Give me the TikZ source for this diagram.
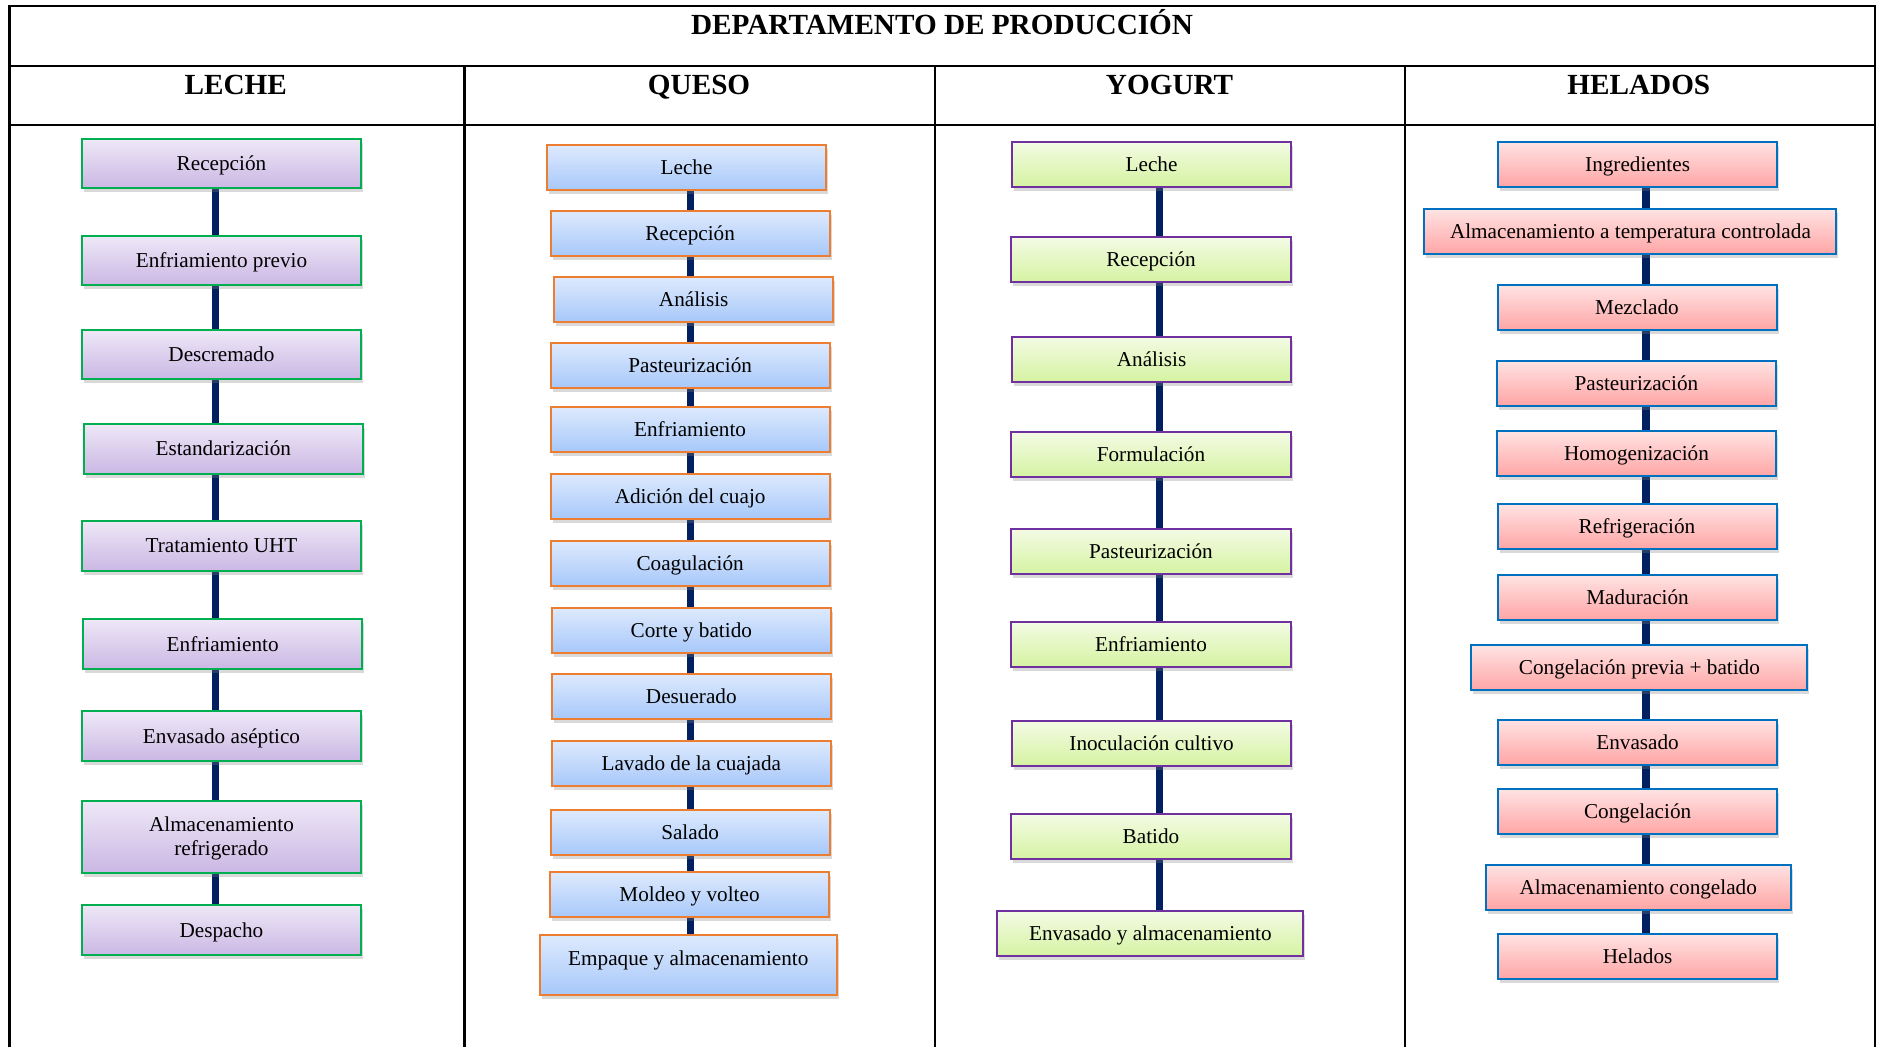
\documentclass[tikz,border=0pt]{standalone}
\usepackage{fontspec}
\setmainfont{Liberation Serif}
\usetikzlibrary{shadows,backgrounds}

% Couleurs des colonnes
\definecolor{vertbord}{HTML}{00B050}
\definecolor{lavhaut}{HTML}{EEE8F7}
\definecolor{lavbas}{HTML}{CBB7E4}
\definecolor{orangebord}{HTML}{ED7D31}
\definecolor{bleuhaut}{HTML}{DEEAFD}
\definecolor{bleubas}{HTML}{A7C8FA}
\definecolor{violetbord}{HTML}{7030A0}
\definecolor{verthaut}{HTML}{F3FBE4}
\definecolor{vertbas}{HTML}{D5F3A2}
\definecolor{bleubord}{HTML}{0070C0}
\definecolor{rosehaut}{HTML}{FFE3E3}
\definecolor{rosebas}{HTML}{FFA5A5}
\definecolor{marine}{HTML}{002060}

\begin{document}
\begin{tikzpicture}[
    x=0.5985pt, y=-0.5985pt,
    % Réglages communs des étapes
    etape/.style={draw, line width=1pt, minimum width=139.5pt, minimum height=22.5pt,
        inner sep=2pt, text height=9pt, text depth=2pt,
        font=\fontsize{10.6}{12}\selectfont,
        drop shadow={opacity=0.3, shadow xshift=1pt, shadow yshift=-2pt}},
    lait/.style={etape, draw=vertbord, top color=lavhaut, bottom color=lavbas, minimum height=24.8pt},
    fromage/.style={etape, draw=orangebord, top color=bleuhaut, bottom color=bleubas},
    yaourt/.style={etape, draw=violetbord, top color=verthaut, bottom color=vertbas},
    glace/.style={etape, draw=bleubord, top color=rosehaut, bottom color=rosebas},
    lien/.style={draw=marine, line width=3.6pt}, % trait entre deux étapes
    titre/.style={font=\fontsize{14.6}{17}\selectfont\bfseries, anchor=base},
    grille/.style={line width=1.1pt}
]
\useasboundingbox (0,0) rectangle (1568,875);
% Tableau
\draw[grille] (8,875) -- (8,5) -- (1566,5) -- (1566,875);
\draw[grille] (8,55) -- (1566,55);
\draw[grille] (8,104.5) -- (1566,104.5);
\draw[grille] (388,55) -- (388,875);
\draw[grille] (781,55) -- (781,875);
\draw[grille] (1173.5,55) -- (1173.5,875);
% En-têtes
\node[titre] (dep) at (787,28.5) {DEPARTAMENTO DE PRODUCCIÓN};
\node[titre] (tleche) at (197,79) {LECHE};
\node[titre] (tqueso) at (584,79) {QUESO};
\node[titre] (tyogurt) at (977,79) {YOGURT};
\node[titre] (thelados) at (1369,79) {HELADOS};
% Axes des traits
\coordinate (axel) at (180,0);
\coordinate (axeq) at (577,0);
\coordinate (axey) at (968.5,0);
\coordinate (axeh) at (1375,0);
% Leche
\node[lait] (l1) at (185,136.5) {Recepción};
\node[lait] (l2) at (185,217.5) {Enfriamiento previo};
\node[lait] (l3) at (185,296) {Descremado};
\node[lait] (l4) at (186.5,375) {Estandarización};
\node[lait] (l5) at (185,456) {Tratamiento UHT};
\node[lait] (l6) at (186,538) {Enfriamiento};
\node[lait] (l7) at (185,615) {Envasado aséptico};
\node[lait, minimum height=35.9pt] (l8) at (185,699)
    {\begin{tabular}{@{}c@{}}Almacenamiento\\refrigerado\end{tabular}};
\node[lait] (l9) at (185,777) {Despacho};
% Queso
\node[fromage] (q1) at (573.5,140) {Leche};
\node[fromage] (q2) at (576.5,195) {Recepción};
\node[fromage] (q3) at (579.5,250) {Análisis};
\node[fromage] (q4) at (576.5,305) {Pasteurización};
\node[fromage] (q5) at (576.5,358.5) {Enfriamiento};
\node[fromage] (q6) at (576.5,414.5) {Adición del cuajo};
\node[fromage] (q7) at (576.5,470.5) {Coagulación};
\node[fromage] (q8) at (577.5,526.5) {Corte y batido};
\node[fromage] (q9) at (577.5,581.5) {Desuerado};
\node[fromage] (q10) at (577.5,637.5) {Lavado de la cuajada};
\node[fromage] (q11) at (576.5,695.5) {Salado};
\node[fromage] (q12) at (576,747.5) {Moldeo y volteo};
\node[fromage, minimum width=148.4pt, minimum height=29.9pt, text depth=8.4pt]
    (q13) at (575,806) {Empaque y almacenamiento};
% Yogurt
\node[yaourt] (y1) at (962,137) {Leche};
\node[yaourt] (y2) at (961.5,217) {Recepción};
\node[yaourt] (y3) at (962,300) {Análisis};
\node[yaourt] (y4) at (961.5,380) {Formulación};
\node[yaourt] (y5) at (961.5,461) {Pasteurización};
\node[yaourt] (y6) at (961.5,538) {Enfriamiento};
\node[yaourt] (y7) at (962,621) {Inoculación cultivo};
\node[yaourt] (y8) at (961.5,699) {Batido};
\node[yaourt, minimum width=153pt] (y9) at (961,780) {Envasado y almacenamiento};
% Helados
\node[glace] (h1) at (1368,137) {Ingredientes};
\node[glace, minimum width=206pt] (h2) at (1362,193.5) {Almacenamiento a temperatura controlada};
\node[glace] (h3) at (1367.5,257) {Mezclado};
\node[glace] (h4) at (1367,320) {Pasteurización};
\node[glace] (h5) at (1367,379) {Homogenización};
\node[glace] (h6) at (1367.5,440) {Refrigeración};
\node[glace] (h7) at (1368,499) {Maduración};
\node[glace, minimum width=168pt] (h8) at (1369.5,558) {Congelación previa + batido};
\node[glace] (h9) at (1368,620) {Envasado};
\node[glace] (h10) at (1368,678) {Congelación};
\node[glace, minimum width=152.6pt] (h11) at (1368.5,741) {Almacenamiento congelado};
\node[glace] (h12) at (1368,799) {Helados};
% Traits entre les étapes
\begin{scope}[on background layer]
\foreach \i [evaluate=\i as \j using int(\i+1)] in {1,...,8}
    \draw[lien] (l\i.south -| axel) -- (l\j.north -| axel);
\foreach \i [evaluate=\i as \j using int(\i+1)] in {1,...,12}
    \draw[lien] (q\i.south -| axeq) -- (q\j.north -| axeq);
\foreach \i [evaluate=\i as \j using int(\i+1)] in {1,...,8}
    \draw[lien] (y\i.south -| axey) -- (y\j.north -| axey);
\foreach \i [evaluate=\i as \j using int(\i+1)] in {1,...,11}
    \draw[lien] (h\i.south -| axeh) -- (h\j.north -| axeh);
\end{scope}
\end{tikzpicture}
\end{document}
